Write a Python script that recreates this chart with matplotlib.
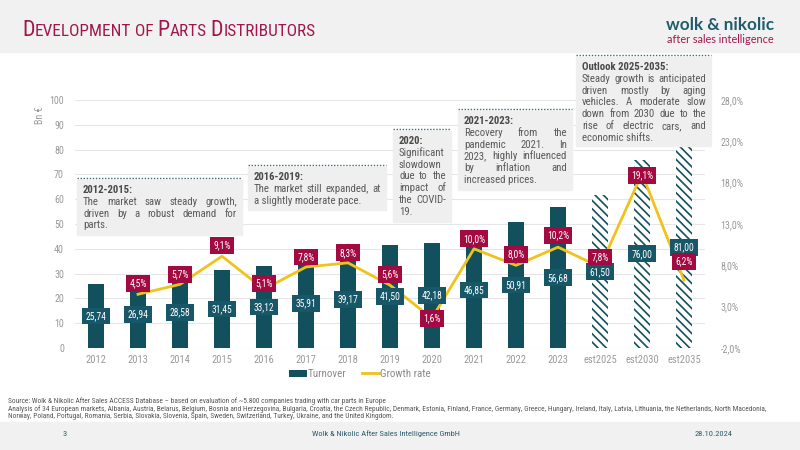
import matplotlib
matplotlib.use("Agg")
import matplotlib.pyplot as plt
import matplotlib.font_manager as fm
from matplotlib.patches import Rectangle, Patch
from matplotlib.lines import Line2D

# ---------------- data ----------------
categories = ["2012", "2013", "2014", "2015", "2016", "2017", "2018", "2019",
              "2020", "2021", "2022", "2023", "est2025", "est2030", "est2035"]
turnover = [25.74, 26.94, 28.58, 31.45, 33.12, 35.91, 39.17, 41.50,
            42.18, 46.85, 50.91, 56.68, 61.50, 76.00, 81.00]
growth = [None, 4.5, 5.7, 9.1, 5.1, 7.8, 8.3, 5.6,
          1.6, 10.0, 8.0, 10.2, 7.8, 19.1, 6.2]
is_estimate = [False] * 12 + [True] * 3
left_ticks = [0, 10, 20, 30, 40, 50, 60, 70, 80, 90, 100]
right_ticks = [-2.0, 3.0, 8.0, 13.0, 18.0, 23.0, 28.0]

title_words = ["Development", "of", "Parts", "Distributors"]
annotation_heads = ["2012-2015:", "2016-2019:", "2020:", "2021-2023:", "Outlook 2025-2035:"]
annotation_lines = [
    ["The market saw steady growth,", "driven by a robust demand for", "parts."],
    ["The market still expanded, at", "a slightly moderate pace."],
    ["Significant", "slowdown", "due to the", "impact of", "the COVID-", "19."],
    ["Recovery from the", "pandemic 2021. In", "2023, highly influenced",
     "by inflation and", "increased prices."],
    ["Steady growth is anticipated", "driven mostly by aging",
     "vehicles. A moderate slow", "down from 2030 due to the",
     "rise of electric cars, and", "economic shifts."],
]
source_lines = [
    "Source: Wolk & Nikolic After Sales ACCESS Database \u2013 based on evaluation of ~5.800 companies trading with car parts in Europe",
    "Analysis of 34 European markets, Albania, Austria, Belarus, Belgium, Bosnia and Herzegovina, Bulgaria, Croatia, the Czech Republic, Denmark, Estonia, Finland, France, Germany, Greece, Hungary, Ireland, Italy, Latvia, Lithuania, the Netherlands, North Macedonia,",
    "Norway, Poland, Portugal, Romania, Serbia, Slovakia, Slovenia, Spain, Sweden, Switzerland, Turkey, Ukraine, and the United Kingdom.",
]
footer_page = "3"
footer_company = "Wolk & Nikolic After Sales Intelligence GmbH"
footer_date = "28.10.2024"
legend_labels = ["Turnover", "Growth rate"]
y_label = "Bn \u20ac"
logo_name = "wolk & nikolic"
logo_tagline = "after sales intelligence"

# ---------------- fonts ----------------
names = {f.name for f in fm.fontManager.ttflist}
BASE = "DejaVu Sans"
for cand in ["Liberation Sans Narrow", "Roboto Condensed", "Roboto", "Lato"]:
    if cand in names:
        BASE = cand
        break
LOGO_FONT = ["Lato", "DejaVu Sans"] if "Lato" in names else ["DejaVu Sans"]
plt.rcParams["font.family"] = [BASE, "DejaVu Sans"]
plt.rcParams["hatch.linewidth"] = 1.2

TEAL = "#12505e"
TEAL_LBL = "#175767"
CRIMSON = "#a30a42"
YELLOW = "#f0c21c"
GREY_TXT = "#9a9a9a"
W, H = 800, 450
# (x0, x1, y of dotted line, y bottom) in pixels from top-left
annot_boxes = [(77, 242, 178, 235), (248, 386, 165, 210), (393, 451, 129, 222),
               (458, 572, 109, 190), (576, 711, 55, 146)]
growth_label_dy = [0, 11, 10, 11, 6, 10, 10, 11, 0, 10, 11, 12, 10, -2, 19]

fig = plt.figure(figsize=(8, 4.5), dpi=100)
fig.patch.set_facecolor("white")
renderer = fig.canvas.get_renderer()


def fx(x):
    return x / W


def fy(y):
    return 1 - y / H


def T(x, y, s, **kw):
    return fig.text(fx(x), fy(y), s, **kw)


def width_of(s, **kw):
    t = fig.text(0, 0, s, **kw)
    w = t.get_window_extent(renderer).width
    t.remove()
    return w


def fit_size(s, target, start, **kw):
    w = width_of(s, fontsize=start, **kw)
    return start * target / w


# header / footer bands
fig.add_artist(Rectangle((0, fy(52)), 1, 52 / H, transform=fig.transFigure,
                         color="#f1f1f1", zorder=0))
fig.add_artist(Rectangle((0, 0), 1, 28 / H, transform=fig.transFigure,
                         color="#f1f1f1", zorder=0))

# title in small caps
runs = []
for i, wd in enumerate(title_words):
    if wd == "of":
        runs.append((wd.upper(), "s"))
    else:
        runs.append((wd[0].upper(), "b"))
        runs.append((wd[1:].upper(), "s"))
    if i < len(title_words) - 1:
        runs.append((" ", "sp"))


def title_width(bs, ss):
    total = 0
    for s, k in runs:
        if k == "sp":
            total += width_of("A A", fontsize=ss) - width_of("AA", fontsize=ss)
        else:
            total += width_of(s, fontsize=bs if k == "b" else ss)
    return total


bs, ss = 13.0, 10.2
scale = 293 / title_width(bs, ss)
bs, ss = bs * scale, ss * scale
x = 22
for s, k in runs:
    if k == "sp":
        x += width_of("A A", fontsize=ss) - width_of("AA", fontsize=ss)
        continue
    fsz = bs if k == "b" else ss
    T(x, 36.5, s, fontsize=fsz, color="#a0174b", va="baseline", ha="left")
    x += width_of(s, fontsize=fsz)

# logo
s1 = fit_size(logo_name, 108, 14, fontweight="bold", family=LOGO_FONT)
T(666, 25, logo_name, fontsize=s1, fontweight="bold", color="#1f5d6c",
  va="center", ha="left", family=LOGO_FONT)
s2 = fit_size(logo_tagline, 107, 8, family=LOGO_FONT)
T(667, 39.5, logo_tagline, fontsize=s2, color="#a3174c",
  va="center", ha="left", family=LOGO_FONT)

# ---------------- chart ----------------
tick_fs = fit_size("100", 15, 7.5)

ax = fig.add_axes([fx(75), 102 / H, 630 / W, 248 / H])
ax.set_xlim(-0.5, len(categories) - 0.5)
ax.set_ylim(0, 100)
ax.set_facecolor("none")
for sp in ax.spines.values():
    sp.set_visible(False)
ax.set_axisbelow(True)
ax.set_yticks(left_ticks)
ax.yaxis.grid(True, color="#e6e6e6", lw=0.8)
ax.tick_params(axis="y", length=0, labelcolor=GREY_TXT, labelsize=tick_fs, pad=8)
ax.set_xticks(range(len(categories)))
ax.set_xticklabels(categories)
ax.tick_params(axis="x", length=0, labelcolor=GREY_TXT, labelsize=tick_fs * 1.05, pad=5)

for i, (v, est) in enumerate(zip(turnover, is_estimate)):
    if est:
        ax.bar(i, v, width=0.39, facecolor="white", edgecolor=TEAL, lw=0,
               hatch="\\\\\\\\", zorder=2)
    else:
        ax.bar(i, v, width=0.39, color=TEAL, zorder=2)

ax2 = ax.twinx()
ax2.set_ylim(-2, 28)
ax2.set_yticks(right_ticks)
ax2.set_yticklabels([f"{v:.1f}%".replace(".", ",") for v in right_ticks])
ax2.tick_params(axis="y", length=0, labelcolor=GREY_TXT, labelsize=tick_fs, pad=11)
for sp in ax2.spines.values():
    sp.set_visible(False)

gx = [i for i, g in enumerate(growth) if g is not None]
gy = [g for g in growth if g is not None]
ax2.plot(gx, gy, color=YELLOW, lw=2, zorder=3, solid_joinstyle="round")

lbl_fs = fit_size("25,74", 21, 7)
for i, v in enumerate(turnover):
    ax2.text(i, v / 2, f"{v:.2f}".replace(".", ","), transform=ax.transData,
             ha="center", va="center", fontsize=lbl_fs, color="white", zorder=6,
             bbox=dict(boxstyle="square,pad=0.35", fc=TEAL_LBL, ec="none"))
for i, g in enumerate(growth):
    if g is None:
        continue
    ax2.annotate(f"{g:.1f}%".replace(".", ","), (i, g), xytext=(0, growth_label_dy[i]),
                 textcoords="offset pixels", ha="center", va="center",
                 fontsize=lbl_fs, color="white", zorder=7,
                 bbox=dict(boxstyle="square,pad=0.35", fc=CRIMSON, ec="none"))

T(40, 115, y_label, rotation=90, fontsize=tick_fs, color=GREY_TXT, ha="center", va="center")

# ---------------- annotation boxes ----------------
afs = fit_size(annotation_lines[4][0], 121, 7.5)
space_w = width_of("a a", fontsize=afs) - width_of("aa", fontsize=afs)

for (x0, x1, yl, yb), head, lines in zip(annot_boxes, annotation_heads, annotation_lines):
    fig.add_artist(Rectangle((fx(x0), fy(yb)), (x1 - x0) / W, (yb - yl - 2) / H,
                             transform=fig.transFigure, color="#efefef", zorder=1))
    fig.add_artist(Line2D([fx(x0), fx(x1)], [fy(yl), fy(yl)], transform=fig.transFigure,
                          color="#3f6b78", lw=1.0, ls=(0, (1, 1.2)), zorder=2))
    tx0, tx1 = x0 + 6, x1 - 5
    ty = yl + 12
    T(tx0, ty, head, fontsize=afs, fontweight="bold", color="#4a4a4a", va="center", zorder=3)
    for j, ln in enumerate(lines):
        y = ty + (j + 1) * 11.8
        words = ln.split()
        last = j == len(lines) - 1
        if last or len(words) == 1:
            T(tx0, y, ln, fontsize=afs, color="#5a5a5a", va="center", zorder=3)
            continue
        ws = [width_of(wd, fontsize=afs) for wd in words]
        gap = (tx1 - tx0 - sum(ws)) / (len(words) - 1)
        gap = max(gap, space_w * 0.6)
        xx = tx0
        for wd, ww in zip(words, ws):
            T(xx, y, wd, fontsize=afs, color="#5a5a5a", va="center", zorder=3)
            xx += ww + gap

# ---------------- legend ----------------
handles = [Patch(facecolor=TEAL, edgecolor="none"), Line2D([], [], color=YELLOW, lw=2)]
fig.legend(handles, legend_labels, loc="center", bbox_to_anchor=(fx(360), fy(374)),
           ncol=2, frameon=False, fontsize=tick_fs * 1.1, labelcolor="#8a8a8a",
           handlelength=1.6, handleheight=0.6, columnspacing=1.4, handletextpad=0.1)

# ---------------- footer ----------------
sfs = fit_size(source_lines[1], 766, 5)
for ln, y in zip(source_lines, [401, 409, 417]):
    T(8, y, ln, fontsize=sfs, color="#555555", va="center")
T(65, 434, footer_page, fontsize=6, color="#2d5c6c", ha="center", va="center")
T(386, 434, footer_company, fontsize=6, color="#2d5c6c", ha="center", va="center")
T(714, 434, footer_date, fontsize=6, color="#2d5c6c", ha="center", va="center")

fig.savefig("out.png", dpi=100)
